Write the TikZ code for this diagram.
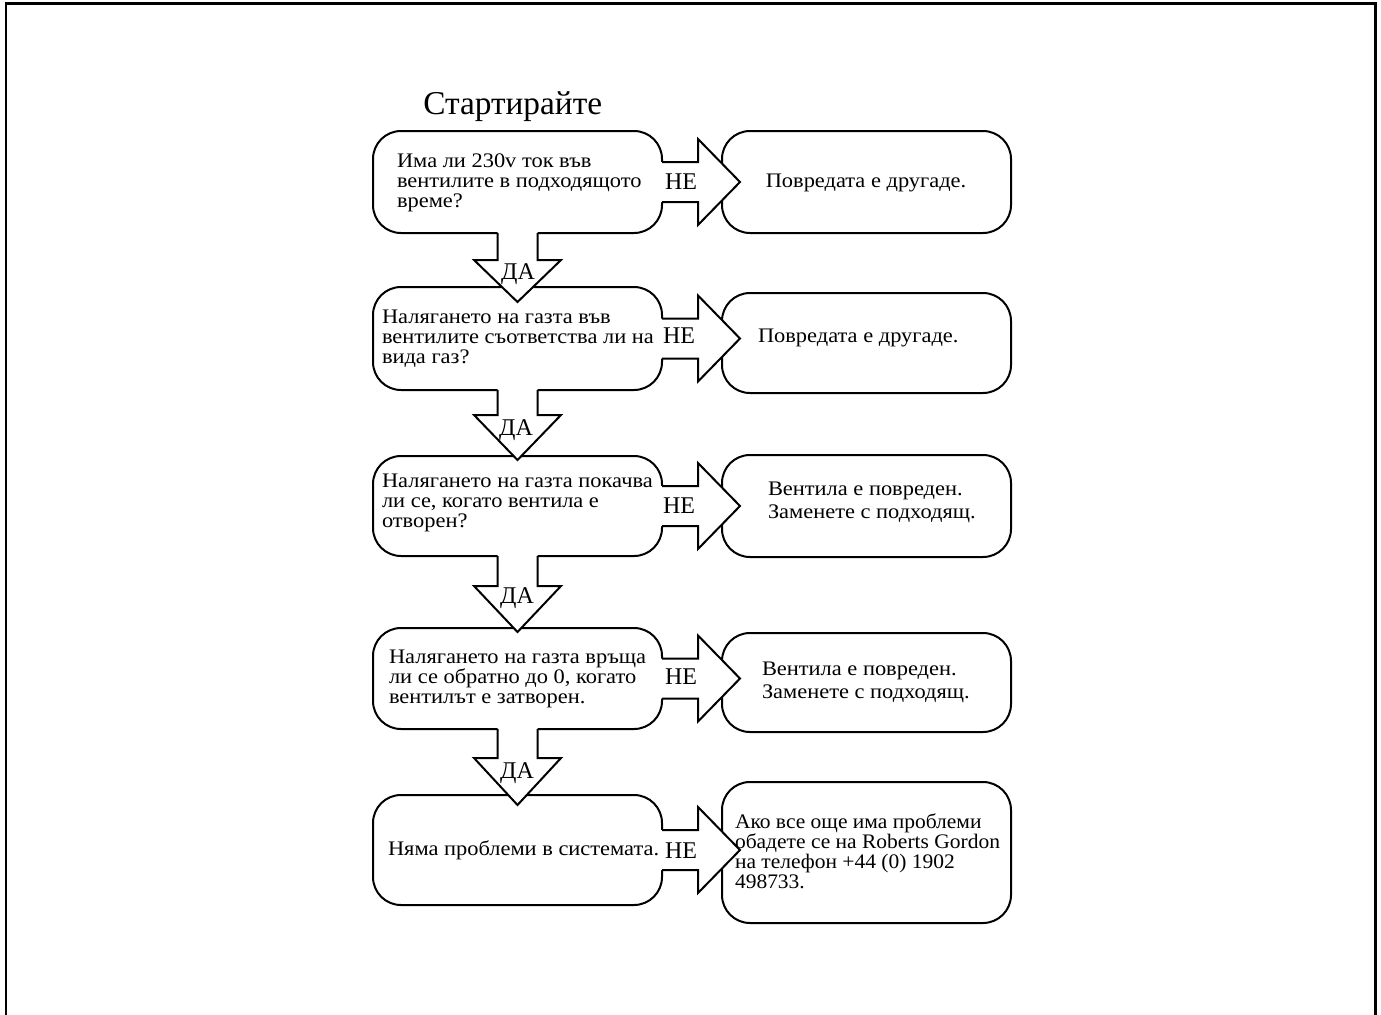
\documentclass[tikz,border=0pt]{standalone}
\usepackage{fontspec}
\setmainfont{Liberation Serif}
\newfontfamily\bodyfont[FakeStretch=1.085]{Liberation Serif}
\newfontfamily\lastfont[FakeStretch=1.04]{Liberation Serif}
\usetikzlibrary{calc}
\newcommand\rarr[1]{%
  \fill[white] ($(#1.east)+(-3,-20)$) -- ++(39,0) -- ++(0,-23) -- ++(42,43) -- ++(-42,43) -- ++(0,-23) -- ++(-39,0) -- cycle;
  \draw[arrline] ($(#1.east)+(0,-20)$) -- ++(36,0) -- ++(0,-23) -- ++(42,43) -- ++(-42,43) -- ++(0,-23) -- ++(-36,0);
}
\newcommand\darr[3]{%
  \fill[white] ($(#1.south)+(-20,-3)$) -- ++(0,#2+3) -- ++(-23.5,0) -- ++(43.5,#3) -- ++(43.5,-#3) -- ++(-23.5,0) -- ++(0,-#2-3) -- cycle;
  \draw[arrline] ($(#1.south)+(-20,0)$) -- ++(0,#2) -- ++(-23.5,0) -- ++(43.5,#3) -- ++(43.5,-#3) -- ++(-23.5,0) -- ++(0,-#2);
}
\begin{document}
\begin{tikzpicture}[x=0.75pt,y=-0.75pt,
  box/.style={draw, line width=1.5pt, rounded corners=21pt, fill=white, inner sep=0pt, outer sep=0pt, minimum width=216.75pt},
  arrline/.style={line width=1.5pt, line join=miter},
  body/.style={inner sep=0pt, outer sep=0pt, font=\bodyfont\fontsize{15.5}{15}\selectfont, align=left, anchor=base west},
  body2/.style={body, font=\bodyfont\fontsize{15.5}{17.25}\selectfont},
  body3/.style={body, font=\lastfont\fontsize{15.5}{15}\selectfont},
  lab/.style={inner sep=0pt, font=\fontsize{18}{18}\selectfont, anchor=base},
  frame/.style={line width=1.9pt, line cap=rect},
]
\useasboundingbox (0,0) rectangle (1381,1014);
\draw[frame] (6,1016) -- (6,3.7) -- (1375.5,3.7) -- (1375.5,1016);

% title
\node[inner sep=0pt, anchor=base west, font=\fontsize{25}{25}\selectfont] (start) at (423,114) {Стартирайте};

% question boxes
\node[box, minimum height={102*0.75pt}] (q1) at (517.5,182) {};
\node[box, minimum height={103*0.75pt}] (q2) at (517.5,338.5) {};
\node[box, minimum height={100*0.75pt}] (q3) at (517.5,506) {};
\node[box, minimum height={101*0.75pt}] (q4) at (517.5,678.5) {};
\node[box, minimum height={110*0.75pt}] (q5) at (517.5,850) {};
% answer boxes
\node[box, minimum height={102*0.75pt}] (a1) at (866.5,182) {};
\node[box, minimum height={100*0.75pt}] (a2) at (866.5,343) {};
\node[box, minimum height={102*0.75pt}] (a3) at (866.5,506) {};
\node[box, minimum height={99*0.75pt}] (a4) at (866.5,682.5) {};
\node[box, minimum height={141*0.75pt}] (a5) at (866.5,852.5) {};

% arrows NE
\rarr{q1}
\rarr{q2}
\rarr{q3}
\rarr{q4}
\rarr{q5}
% arrows DA
\darr{q1}{27}{42}
\darr{q2}{25}{45}
\darr{q3}{30}{46}
\darr{q4}{29}{47}

% labels
\node[lab] (ne1) at ($(q1.east)+(19,7)$) {НЕ};
\node[lab] (ne2) at ($(q2.east)+(17,5)$) {НЕ};
\node[lab] (ne3) at ($(q3.east)+(17,7)$) {НЕ};
\node[lab] (ne4) at ($(q4.east)+(19,6)$) {НЕ};
\node[lab] (ne5) at ($(q5.east)+(19,8)$) {НЕ};
\node[lab] (da1) at (518,279) {ДА};
\node[lab] (da2) at (516,435) {ДА};
\node[lab] (da3) at (517,603) {ДА};
\node[lab] (da4) at (517,778) {ДА};

% question texts (anchor = baseline of last line)
\node[body] (t1) at (397,207) {Има ли 230v ток във\\вентилите в подходящото\\време?};
\node[body] (t2) at (382,363) {Налягането на газта във\\вентилите съответства ли на\\вида газ?};
\node[body] (t3) at (382,527) {Налягането на газта покачва\\ли се, когато вентила е\\отворен?};
\node[body] (t4) at (389,703) {Налягането на газта връща\\ли се обратно до 0, когато\\вентилът е затворен.};
\node[body] (t5) at (388,855) {Няма проблеми в системата.};

% answer texts
\node[body, anchor=base] (r1) at (866,187) {Повредата е другаде.};
\node[body] (r2) at (758,342) {Повредата е другаде.};
\node[body2] (r3) at (768,518) {Вентила е повреден.\\Заменете с подходящ.};
\node[body2] (r4) at (762,698) {Вентила е повреден.\\Заменете с подходящ.};
\node[body3] (r5) at (735,888) {Ако все още има проблеми\\обадете се на Roberts Gordon\\на телефон +44 (0) 1902\\498733.};
\end{tikzpicture}
\end{document}
